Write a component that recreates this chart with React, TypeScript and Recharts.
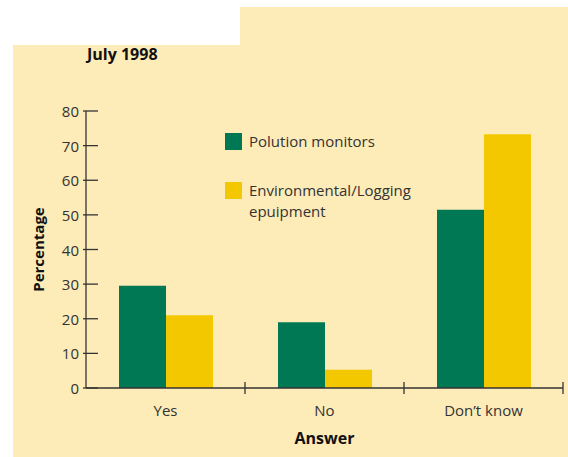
import React from 'react';
import { BarChart, Bar, XAxis, YAxis, Legend } from 'recharts';

// survey answers, July 1998
const categories = ['Yes', 'No', 'Don\u2019t know'];
const polutionMonitors = [29.5, 19, 51.5];
const environmentalLogging = [21, 5.3, 73.3];
const yTicks = [0, 10, 20, 30, 40, 50, 60, 70, 80];
const seriesOrder = ['monitors', 'logging'];

const data = categories.map((answer, i) => ({
  answer,
  monitors: polutionMonitors[i],
  logging: environmentalLogging[i],
}));

const W = 568;
const H = 457;
const margin = { top: 111, right: 5, left: 26, bottom: 9 };
const yAxisWidth = 60;
const xAxisHeight = 60;
const halfBand = (W - margin.left - yAxisWidth - margin.right) / categories.length / 2;

const GREEN = '#007854';
const YELLOW = '#F4C800';
const BEIGE = '#FDEBB8';
const AXIS = '#333';
const FONT = '"Open Sans", sans-serif';

const YTick = ({ x, y, payload }: any) => (
  <g>
    <line x1={x - 3} x2={x + 12} y1={y} y2={y} stroke={AXIS} strokeWidth={1.3} />
    <text x={x - 7} y={y} textAnchor="end" dominantBaseline="central" fill={AXIS} fontSize={15} fontFamily={FONT}>
      {payload.value}
    </text>
  </g>
);

const XTick = ({ x, y, payload }: any) => (
  <g>
    <line x1={x + halfBand} x2={x + halfBand} y1={y - 6} y2={y + 6} stroke={AXIS} strokeWidth={1.3} />
    <text x={x} y={y + 28} textAnchor="middle" fill={AXIS} fontSize={15} fontFamily={FONT}>
      {payload.value}
    </text>
  </g>
);

const YLabel = ({ viewBox }: any) => {
  const cx = viewBox.x + 12;
  const cy = viewBox.y + viewBox.height / 2;
  return (
    <text
      x={cx}
      y={cy}
      transform={`rotate(-90, ${cx}, ${cy})`}
      textAnchor="middle"
      dominantBaseline="central"
      fill="#111"
      fontSize={15}
      fontWeight="bold"
      fontFamily={FONT}
    >
      Percentage
    </text>
  );
};

const LegendContent = ({ payload }: any) => {
  const items = [...(payload || [])].sort(
    (a: any, b: any) => seriesOrder.indexOf(a.dataKey) - seriesOrder.indexOf(b.dataKey)
  );
  return (
    <div style={{ fontFamily: FONT, fontSize: 15, color: AXIS }}>
      {items.map((entry: any, i: number) => (
        <div key={i} style={{ display: 'flex', alignItems: 'flex-start', marginBottom: 30 }}>
          <div style={{ width: 17, height: 17, background: entry.color, flex: 'none' }} />
          <div style={{ marginLeft: 7, width: 170, lineHeight: '21px', marginTop: -2 }}>{entry.value}</div>
        </div>
      ))}
    </div>
  );
};

const App = () => {
  return (
    <div style={{ position: 'absolute', left: 0, top: 0, width: W, height: H, background: '#fff', overflow: 'hidden' }}>
      <div style={{ position: 'absolute', left: 13, top: 45, right: 0, bottom: 0, background: BEIGE }} />
      <div style={{ position: 'absolute', left: 240, top: 7, right: 0, height: 40, background: BEIGE }} />
      <div
        style={{
          position: 'absolute',
          left: 87,
          top: 43,
          fontFamily: FONT,
          fontSize: 16,
          fontWeight: 'bold',
          color: '#111',
        }}
      >
        July 1998
      </div>
      <div style={{ position: 'absolute', left: 0, top: 0 }}>
        <BarChart width={W} height={H} data={data} margin={margin} barGap={0}>
          <XAxis
            dataKey="answer"
            height={xAxisHeight}
            tickSize={0}
            tickMargin={0}
            tickLine={false}
            tick={<XTick />}
            stroke={AXIS}
            strokeWidth={1.3}
            label={{ value: 'Answer', position: 'insideBottom', offset: 4, fill: '#111', fontSize: 16, fontWeight: 'bold', fontFamily: FONT }}
          />
          <YAxis
            width={yAxisWidth}
            domain={[0, 80]}
            ticks={yTicks}
            tickSize={0}
            tickMargin={0}
            tickLine={false}
            tick={<YTick />}
            stroke={AXIS}
            strokeWidth={1.3}
            label={<YLabel />}
          />
          <Legend
            layout="vertical"
            align="center"
            verticalAlign="middle"
            wrapperStyle={{ left: 225, top: 133, width: 250 }}
            content={<LegendContent />}
          />
          <Bar dataKey="monitors" name="Polution monitors" fill={GREEN} barSize={47} isAnimationActive={false} />
          <Bar dataKey="logging" name="Environmental/Logging epuipment" fill={YELLOW} barSize={47} isAnimationActive={false} />
        </BarChart>
      </div>
    </div>
  );
};

export default App;
